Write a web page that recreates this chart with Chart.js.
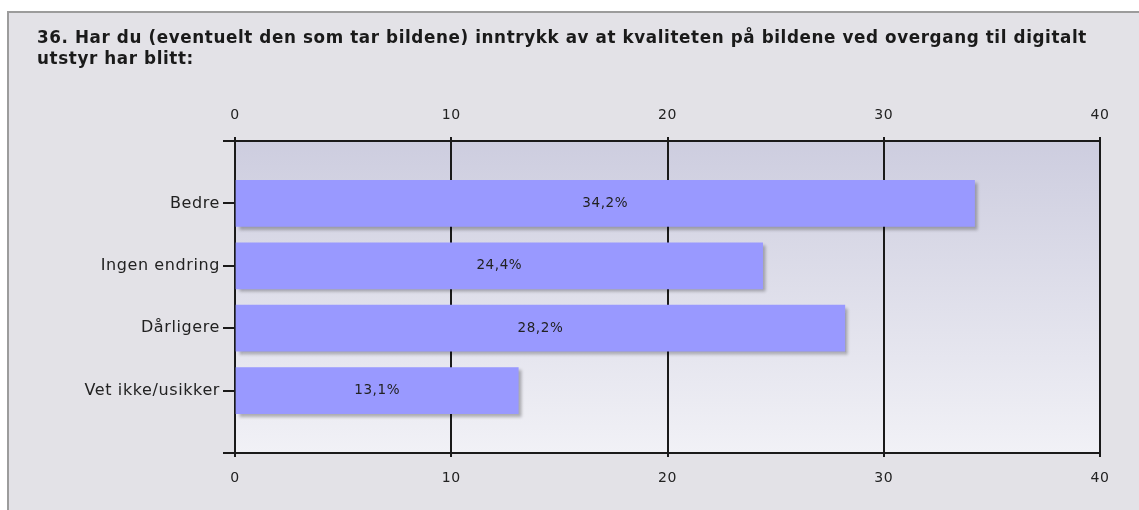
<!DOCTYPE html>
<html><head><meta charset="utf-8">
<script src="https://cdn.jsdelivr.net/npm/chart.js@4/dist/chart.umd.min.js"></script>
<style>html,body{margin:0;padding:0;background:#fff;overflow:hidden}</style>
</head><body>
<canvas id="c" width="1139" height="510" style="display:block;width:1139px;height:510px"></canvas>
<script>
const titleLines = ['36. Har du (eventuelt den som tar bildene) inntrykk av at kvaliteten på bildene ved overgang til digitalt', 'utstyr har blitt:'];
const categories = ['Bedre', 'Ingen endring', 'Dårligere', 'Vet ikke/usikker'];
const values = [34.2, 24.4, 28.2, 13.1];
const xMin = 0, xMax = 40, xStep = 10;

const labels = [''].concat(categories, ['']);
const data = [null].concat(values, [null]);
const FONT = 'DejaVu Sans';
const LINE = '#1a1a1a';
const SPACING = '0.6px';

const spacingPlugin = {
  id: 'spacing',
  afterInit(chart) { chart.ctx.letterSpacing = SPACING; },
  beforeUpdate(chart) { chart.ctx.letterSpacing = SPACING; },
  beforeDraw(chart) { chart.ctx.letterSpacing = SPACING; }
};

const panelPlugin = {
  id: 'panel',
  beforeDraw(chart) {
    const ctx = chart.ctx, a = chart.chartArea;
    ctx.save();
    ctx.fillStyle = '#ffffff';
    ctx.fillRect(0, 0, chart.width, chart.height);
    ctx.fillStyle = '#e3e2e7';
    ctx.fillRect(7, 11, chart.width - 7, chart.height - 11);
    ctx.strokeStyle = '#9c9c9c';
    ctx.lineWidth = 2;
    ctx.beginPath();
    ctx.moveTo(8, chart.height);
    ctx.lineTo(8, 12);
    ctx.lineTo(chart.width, 12);
    ctx.stroke();
    const g = ctx.createLinearGradient(0, a.top, 0, a.bottom);
    g.addColorStop(0, '#cdcddf');
    g.addColorStop(1, '#f1f1f6');
    ctx.fillStyle = g;
    ctx.fillRect(a.left, a.top, a.right - a.left, a.bottom - a.top);
    ctx.restore();
  }
};

const shadowPlugin = {
  id: 'barShadow',
  beforeDatasetsDraw(chart) {
    const ctx = chart.ctx;
    ctx.save();
    ctx.shadowColor = 'rgba(0,0,0,0.28)';
    ctx.shadowOffsetX = 3;
    ctx.shadowOffsetY = 3;
    ctx.shadowBlur = 3;
  },
  afterDatasetsDraw(chart) {
    chart.ctx.restore();
  }
};

const valueLabelPlugin = {
  id: 'valueLabels',
  afterDatasetsDraw(chart) {
    const ctx = chart.ctx;
    const meta = chart.getDatasetMeta(0);
    ctx.save();
    ctx.font = '13.5px "' + FONT + '"';
    ctx.fillStyle = '#222222';
    ctx.textAlign = 'center';
    ctx.textBaseline = 'middle';
    meta.data.forEach((el, i) => {
      const v = chart.data.datasets[0].data[i];
      if (v == null) return;
      ctx.fillText(v.toFixed(1).replace('.', ',') + '%', (el.base + el.x) / 2, el.y);
    });
    ctx.restore();
  }
};

new Chart(document.getElementById('c'), {
  type: 'bar',
  data: {
    labels: labels,
    datasets: [{
      data: data,
      backgroundColor: '#9999ff',
      borderWidth: 0,
      barThickness: 46,
      xAxisID: 'x'
    }]
  },
  options: {
    indexAxis: 'y',
    responsive: false,
    animation: false,
    devicePixelRatio: 1,
    layout: { padding: { left: 37, right: 39, top: 0, bottom: 0 } },
    plugins: {
      legend: { display: false },
      tooltip: { enabled: false },
      title: {
        display: true,
        text: titleLines,
        align: 'start',
        color: '#1a1a1a',
        font: { family: FONT, size: 16.8, weight: 'bold', lineHeight: 1.25 },
        padding: { top: 28.5, bottom: 0 }
      }
    },
    scales: {
      x: {
        type: 'linear', position: 'bottom', min: xMin, max: xMax,
        afterFit(s) { s.height = 57; },
        ticks: { stepSize: xStep, color: '#222', padding: 13, font: { family: FONT, size: 14 } },
        grid: { color: LINE, lineWidth: 2, tickLength: 4, drawTicks: true, drawOnChartArea: true },
        border: { display: true, color: LINE, width: 2 }
      },
      x2: {
        type: 'linear', position: 'top', min: xMin, max: xMax,
        afterFit(s) { s.height = 70.5; },
        ticks: { stepSize: xStep, color: '#222', padding: 13, font: { family: FONT, size: 14 } },
        grid: { color: LINE, lineWidth: 2, tickLength: 4, drawTicks: true, drawOnChartArea: false },
        border: { display: true, color: LINE, width: 2 }
      },
      y: {
        type: 'category', offset: false,
        afterFit(s) { s.width = 198; },
        ticks: { color: '#222', padding: 3, autoSkip: false, font: { family: FONT, size: 16 } },
        grid: { offset: false, color: LINE, lineWidth: 2, tickLength: 12, drawTicks: true, drawOnChartArea: false },
        border: { display: true, color: LINE, width: 2 }
      }
    }
  },
  plugins: [spacingPlugin, panelPlugin, shadowPlugin, valueLabelPlugin]
});
</script>
</body></html>
